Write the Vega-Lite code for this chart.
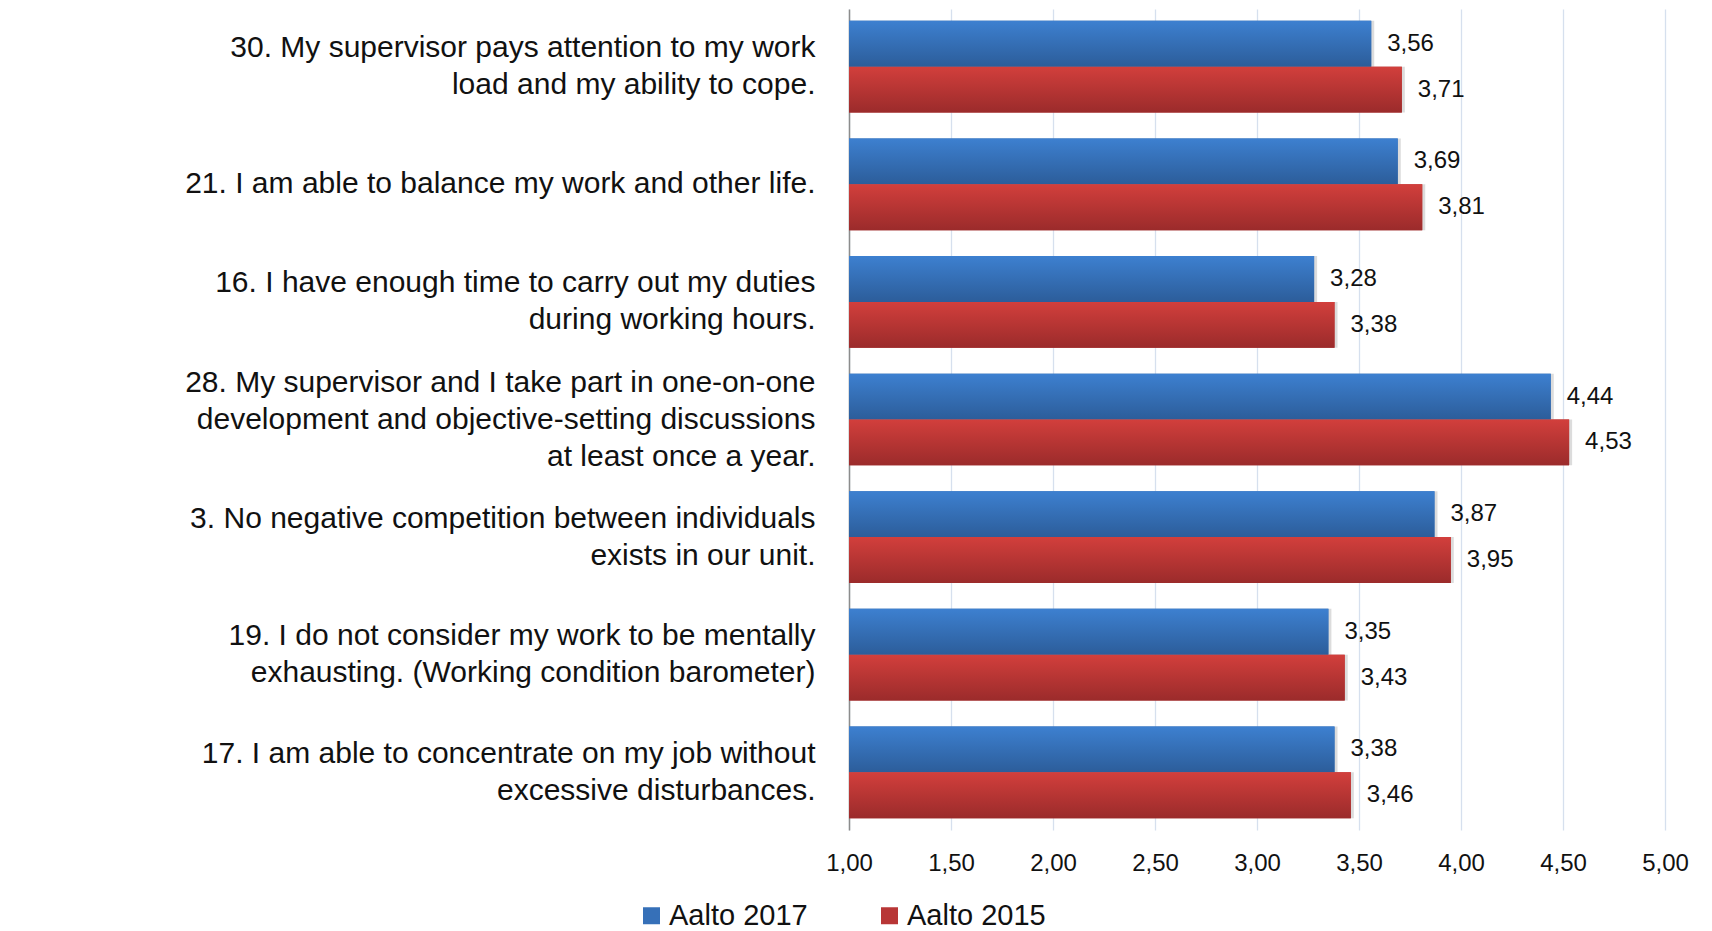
{
  "$schema": "https://vega.github.io/schema/vega-lite/v6.json",
  "width": 816,
  "height": 821,
  "autosize": {"type": "none"},
  "padding": {"left": 849, "top": 9, "right": 47, "bottom": 101},
  "background": "white",
  "config": {
    "font": "Liberation Sans",
    "view": {"stroke": null},
    "locale": {"number": {"decimal": ",", "thousands": " ", "grouping": [3], "currency": ["", " €"]}}
  },
  "data": {
    "values": [
      {"item": "30. My supervisor pays attention to my work|load and my ability to cope.", "series": "Aalto 2017", "value": 3.56},
      {"item": "30. My supervisor pays attention to my work|load and my ability to cope.", "series": "Aalto 2015", "value": 3.71},
      {"item": "21. I am able to balance my work and other life.", "series": "Aalto 2017", "value": 3.69},
      {"item": "21. I am able to balance my work and other life.", "series": "Aalto 2015", "value": 3.81},
      {"item": "16. I have enough time to carry out my duties|during working hours.", "series": "Aalto 2017", "value": 3.28},
      {"item": "16. I have enough time to carry out my duties|during working hours.", "series": "Aalto 2015", "value": 3.38},
      {"item": "28. My supervisor and I take part in one-on-one|development and objective-setting discussions|at least once a year.", "series": "Aalto 2017", "value": 4.44},
      {"item": "28. My supervisor and I take part in one-on-one|development and objective-setting discussions|at least once a year.", "series": "Aalto 2015", "value": 4.53},
      {"item": "3. No negative competition between individuals|exists in our unit.", "series": "Aalto 2017", "value": 3.87},
      {"item": "3. No negative competition between individuals|exists in our unit.", "series": "Aalto 2015", "value": 3.95},
      {"item": "19. I do not consider my work to be mentally|exhausting. (Working condition barometer)", "series": "Aalto 2017", "value": 3.35},
      {"item": "19. I do not consider my work to be mentally|exhausting. (Working condition barometer)", "series": "Aalto 2015", "value": 3.43},
      {"item": "17. I am able to concentrate on my job without|excessive disturbances.", "series": "Aalto 2017", "value": 3.38},
      {"item": "17. I am able to concentrate on my job without|excessive disturbances.", "series": "Aalto 2015", "value": 3.46}
    ]
  },
  "encoding": {
    "y": {
      "field": "item",
      "type": "nominal",
      "sort": null,
      "scale": {"paddingInner": 0.22, "paddingOuter": 0.1},
      "axis": {
        "title": null,
        "labelExpr": "split(datum.label, '|')",
        "labelFontSize": 30,
        "labelLineHeight": 37,
        "labelColor": "#111111",
        "labelAlign": "right",
        "labelBaseline": "middle",
        "labelOffset": {
          "condition": [
            {"test": "length(split(datum.value, '|')) == 3", "value": -37},
            {"test": "length(split(datum.value, '|')) == 2", "value": -18.5}
          ],
          "value": 0
        },
        "labelPadding": 34,
        "labelLimit": 900,
        "ticks": false,
        "grid": false,
        "domainColor": "#8c8c8c",
        "domainWidth": 1.5
      }
    },
    "yOffset": {
      "field": "series",
      "type": "nominal",
      "sort": ["Aalto 2017", "Aalto 2015"],
      "scale": {"domain": ["Aalto 2017", "Aalto 2015"], "paddingInner": 0, "paddingOuter": 0}
    },
    "x": {
      "field": "value",
      "type": "quantitative",
      "scale": {"domain": [1, 5], "zero": false, "nice": false},
      "axis": {
        "title": null,
        "values": [1, 1.5, 2, 2.5, 3, 3.5, 4, 4.5, 5],
        "format": ".2f",
        "labelFontSize": 24,
        "labelColor": "#111111",
        "labelPadding": 21,
        "labelFlush": false,
        "ticks": false,
        "domain": false,
        "grid": true,
        "gridColor": "#d6e0ee",
        "gridWidth": 1.3
      }
    }
  },
  "layer": [
    {
      "mark": {"type": "bar", "color": "#9a9a9a", "opacity": 0.35, "xOffset": 3, "yOffset": 4},
      "encoding": {
        "x2": {"datum": 1}
      }
    },
    {
      "mark": {"type": "bar"},
      "encoding": {
        "x2": {"datum": 1},
        "color": {
          "field": "series",
          "type": "nominal",
          "scale": {"domain": ["Aalto 2017", "Aalto 2015"], "range": ["#3670b8", "#b83636"]},
          "legend": {
            "orient": "none",
            "legendX": -212,
            "legendY": 892,
            "direction": "horizontal",
            "title": null,
            "symbolType": "square",
            "symbolSize": 289,
            "symbolStrokeWidth": 0,
            "labelFontSize": 29,
            "labelColor": "#111111",
            "labelOffset": 3,
            "columnPadding": 67,
            "padding": 0
          }
        }
      }
    },
    {
      "mark": {"type": "bar"},
      "encoding": {
        "x2": {"datum": 1},
        "fill": {
          "condition": {
            "test": "datum.series === 'Aalto 2017'",
            "value": {"gradient": "linear", "x1": 0, "y1": 0, "x2": 0, "y2": 1, "stops": [{"offset": 0, "color": "#3d80d0"}, {"offset": 1, "color": "#2c5d9a"}]}
          },
          "value": {"gradient": "linear", "x1": 0, "y1": 0, "x2": 0, "y2": 1, "stops": [{"offset": 0, "color": "#d23f3c"}, {"offset": 1, "color": "#9b2b2b"}]}
        }
      }
    },
    {
      "mark": {"type": "text", "align": "left", "baseline": "middle", "dx": 16, "fontSize": 24, "color": "#111111"},
      "encoding": {
        "text": {"field": "value", "type": "quantitative", "format": ".2f"}
      }
    }
  ]
}
